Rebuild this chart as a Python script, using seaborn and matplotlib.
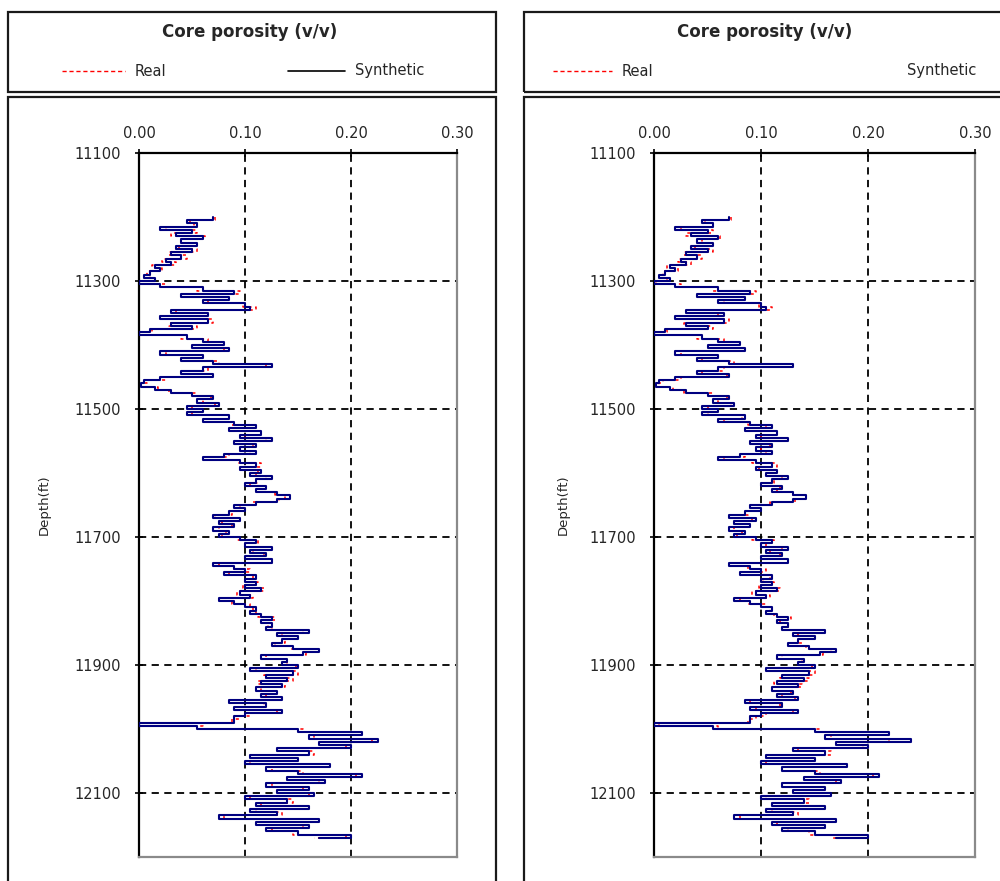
import numpy as np
import pandas as pd
import matplotlib
matplotlib.use("Agg")
import matplotlib.pyplot as plt
import seaborn as sns
from matplotlib.patches import Rectangle
from matplotlib.lines import Line2D

# ---------------- data ----------------
depth_ft = list(range(11200, 12175, 5))

synthetic_left = [
    0.070, 0.045, 0.055, 0.020, 0.050, 0.035, 0.060, 0.040, 0.055, 0.035,
    0.050, 0.030, 0.040, 0.025, 0.030, 0.015, 0.020, 0.010, 0.005, 0.015,
    0.000, 0.020, 0.060, 0.090, 0.040, 0.085, 0.060, 0.100, 0.105, 0.030,
    0.065, 0.020, 0.065, 0.030, 0.050, 0.010, 0.000, 0.045, 0.060, 0.080,
    0.050, 0.085, 0.020, 0.060, 0.040, 0.070, 0.125, 0.060, 0.040, 0.070,
    0.020, 0.005, 0.002, 0.015, 0.030, 0.050, 0.070, 0.055, 0.075, 0.045,
    0.060, 0.045, 0.085, 0.060, 0.090, 0.110, 0.085, 0.115, 0.095, 0.125,
    0.090, 0.110, 0.095, 0.110, 0.080, 0.060, 0.095, 0.110, 0.095, 0.115,
    0.105, 0.125, 0.110, 0.100, 0.120, 0.110, 0.130, 0.142, 0.130, 0.110,
    0.090, 0.100, 0.085, 0.070, 0.095, 0.075, 0.090, 0.070, 0.085, 0.075,
    0.095, 0.110, 0.100, 0.125, 0.105, 0.120, 0.100, 0.125, 0.070, 0.090,
    0.100, 0.080, 0.110, 0.100, 0.110, 0.100, 0.115, 0.095, 0.105, 0.075,
    0.090, 0.100, 0.110, 0.105, 0.115, 0.125, 0.115, 0.125, 0.120, 0.160,
    0.130, 0.150, 0.135, 0.125, 0.145, 0.170, 0.155, 0.115, 0.140, 0.135,
    0.150, 0.105, 0.145, 0.120, 0.140, 0.115, 0.135, 0.110, 0.130, 0.115,
    0.135, 0.085, 0.120, 0.090, 0.135, 0.100, 0.090, 0.090, 0.000, 0.055,
    0.150, 0.210, 0.160, 0.225, 0.170, 0.200, 0.130, 0.160, 0.105, 0.150,
    0.100, 0.180, 0.120, 0.150, 0.210, 0.140, 0.175, 0.120, 0.160, 0.130,
    0.165, 0.100, 0.140, 0.110, 0.160, 0.105, 0.130, 0.075, 0.170, 0.110,
    0.160, 0.120, 0.150, 0.200, 0.170,
]

synthetic_right = [
    0.070, 0.045, 0.055, 0.020, 0.050, 0.035, 0.060, 0.040, 0.055, 0.035,
    0.050, 0.030, 0.040, 0.025, 0.030, 0.015, 0.020, 0.010, 0.005, 0.015,
    0.000, 0.020, 0.060, 0.090, 0.040, 0.085, 0.060, 0.100, 0.105, 0.030,
    0.065, 0.020, 0.065, 0.030, 0.050, 0.010, 0.000, 0.045, 0.060, 0.080,
    0.050, 0.085, 0.020, 0.060, 0.040, 0.070, 0.130, 0.060, 0.040, 0.070,
    0.020, 0.005, 0.002, 0.015, 0.030, 0.050, 0.070, 0.055, 0.075, 0.045,
    0.060, 0.045, 0.085, 0.060, 0.090, 0.110, 0.085, 0.115, 0.095, 0.125,
    0.090, 0.110, 0.095, 0.110, 0.080, 0.060, 0.095, 0.110, 0.095, 0.115,
    0.105, 0.125, 0.110, 0.100, 0.120, 0.110, 0.130, 0.142, 0.130, 0.110,
    0.090, 0.100, 0.085, 0.070, 0.095, 0.075, 0.090, 0.070, 0.085, 0.075,
    0.095, 0.110, 0.100, 0.125, 0.105, 0.120, 0.100, 0.125, 0.070, 0.090,
    0.100, 0.080, 0.110, 0.100, 0.110, 0.100, 0.115, 0.095, 0.105, 0.075,
    0.090, 0.100, 0.110, 0.105, 0.115, 0.125, 0.115, 0.125, 0.120, 0.160,
    0.130, 0.150, 0.135, 0.125, 0.145, 0.170, 0.155, 0.115, 0.140, 0.135,
    0.150, 0.105, 0.145, 0.120, 0.140, 0.115, 0.135, 0.110, 0.130, 0.115,
    0.135, 0.085, 0.120, 0.090, 0.135, 0.100, 0.090, 0.090, 0.000, 0.055,
    0.150, 0.220, 0.160, 0.240, 0.170, 0.200, 0.130, 0.160, 0.105, 0.150,
    0.100, 0.180, 0.120, 0.150, 0.210, 0.140, 0.175, 0.120, 0.160, 0.130,
    0.165, 0.100, 0.140, 0.110, 0.160, 0.105, 0.130, 0.075, 0.170, 0.110,
    0.160, 0.120, 0.150, 0.200, 0.170,
]

real = [
    0.072, 0.048, 0.052, 0.025, 0.055, 0.030, 0.062, 0.045, 0.050, 0.038,
    0.055, 0.028, 0.045, 0.022, 0.035, 0.012, 0.022, 0.008, 0.010, 0.012,
    0.002, 0.025, 0.055, 0.095, 0.045, 0.080, 0.065, 0.098, 0.110, 0.035,
    0.060, 0.025, 0.070, 0.028, 0.055, 0.012, 0.005, 0.040, 0.065, 0.078,
    0.055, 0.080, 0.025, 0.058, 0.045, 0.075, 0.120, 0.065, 0.045, 0.068,
    0.025, 0.008, 0.005, 0.018, 0.028, 0.055, 0.068, 0.060, 0.072, 0.050,
    0.058, 0.050, 0.082, 0.065, 0.088, 0.105, 0.090, 0.112, 0.100, 0.120,
    0.095, 0.108, 0.100, 0.105, 0.085, 0.065, 0.092, 0.115, 0.098, 0.112,
    0.110, 0.120, 0.112, 0.105, 0.118, 0.115, 0.128, 0.138, 0.132, 0.108,
    0.095, 0.098, 0.088, 0.072, 0.092, 0.078, 0.088, 0.075, 0.082, 0.078,
    0.092, 0.112, 0.105, 0.120, 0.108, 0.118, 0.105, 0.122, 0.075, 0.088,
    0.105, 0.085, 0.108, 0.102, 0.112, 0.098, 0.118, 0.092, 0.108, 0.080,
    0.088, 0.105, 0.108, 0.110, 0.112, 0.128, 0.118, 0.122, 0.125, 0.155,
    0.135, 0.148, 0.138, 0.128, 0.142, 0.165, 0.158, 0.120, 0.138, 0.140,
    0.148, 0.110, 0.150, 0.118, 0.145, 0.112, 0.138, 0.115, 0.128, 0.120,
    0.132, 0.090, 0.118, 0.095, 0.130, 0.105, 0.095, 0.088, 0.005, 0.060,
    0.155, 0.205, 0.165, 0.220, 0.175, 0.195, 0.135, 0.165, 0.110, 0.145,
    0.105, 0.175, 0.125, 0.155, 0.205, 0.145, 0.170, 0.125, 0.155, 0.135,
    0.160, 0.105, 0.145, 0.115, 0.155, 0.110, 0.135, 0.080, 0.165, 0.115,
    0.155, 0.125, 0.145, 0.195, 0.165,
]

x_ticks = [0.00, 0.10, 0.20, 0.30]
x_tick_labels = ["0.00", "0.10", "0.20", "0.30"]
y_ticks = [11100, 11300, 11500, 11700, 11900, 12100]
title_text = "Core porosity (v/v)"
series_names = ["Real", "Synthetic"]

# ---------------- style ----------------
sns.set_style("white")
plt.rcParams["font.family"] = ["DejaVu Sans"]

W, H = 1000, 881
fig = plt.figure(figsize=(W / 100, H / 100), dpi=100)


def fx(px):
    return px / W


def fy(py):
    return 1 - py / H


def box(x0, y0, x1, y1, lw=1.6):
    fig.add_artist(Rectangle((fx(x0), fy(y1)), (x1 - x0) / W, (y1 - y0) / H,
                             transform=fig.transFigure, fill=False,
                             ec="#1a1a1a", lw=lw, zorder=0))


def panel(ax_px, synth, head, show_synth_line):
    l, t, r, b = ax_px
    hx0, hx1, title_cx, real_line, real_txt, syn_line, syn_txt, depth_x = head
    box(hx0, 12, hx1, 92)
    box(hx0, 97, hx1, 900)

    fig.text(fx(title_cx), fy(32), title_text, ha="center", va="center",
             fontsize=12, fontweight="bold")
    fig.add_artist(Line2D([fx(real_line[0]), fx(real_line[1])], [fy(71), fy(71)],
                          transform=fig.transFigure, color="red", lw=1.0,
                          ls=(0, (3, 2))))
    fig.text(fx(real_txt), fy(71), series_names[0], ha="left", va="center",
             fontsize=10.5)
    if show_synth_line:
        fig.add_artist(Line2D([fx(syn_line[0]), fx(syn_line[1])], [fy(71), fy(71)],
                              transform=fig.transFigure, color="black", lw=1.2))
    fig.text(fx(syn_txt), fy(71), series_names[1], ha="left", va="center",
             fontsize=10.5)
    fig.text(fx(depth_x), fy(505), "Depth(ft)", rotation=90, ha="center",
             va="center", fontsize=9.5)

    ax = fig.add_axes([fx(l), fy(b), (r - l) / W, (b - t) / H])
    df = pd.DataFrame({"Depth": depth_ft, "Real": real, "Synthetic": synth})
    sns.lineplot(data=df, x="Real", y="Depth", orient="y", sort=False,
                 estimator=None, color="red", lw=1.1,
                 linestyle=(0, (2, 2.5)), drawstyle="steps-pre", ax=ax, zorder=2)
    sns.lineplot(data=df, x="Synthetic", y="Depth", orient="y", sort=False,
                 estimator=None, color="#000080", lw=1.5,
                 drawstyle="steps-pre", ax=ax, zorder=3)

    ax.set_xlim(0, 0.30)
    ax.set_ylim(12200, 11100)
    ax.xaxis.tick_top()
    ax.set_xticks(x_ticks)
    ax.set_xticklabels(x_tick_labels)
    ax.set_yticks(y_ticks)
    ax.set_yticklabels([str(v) for v in y_ticks])
    ax.set_xlabel("")
    ax.set_ylabel("")
    ax.tick_params(axis="both", direction="inout", length=6, width=1.2,
                   color="black", labelsize=10.5)
    ax.tick_params(axis="x", top=True, bottom=False, pad=6)
    ax.tick_params(axis="y", left=True, right=False, pad=10)
    ax.grid(True, color="black", ls=(0, (4, 3)), lw=1.3)
    for s in ["top", "left"]:
        ax.spines[s].set_color("black")
        ax.spines[s].set_linewidth(1.6)
    for s in ["right", "bottom"]:
        ax.spines[s].set_color("#8a8a8a")
        ax.spines[s].set_linewidth(1.6)
    ax.set_facecolor("white")
    return ax


panel((139, 153, 457, 857), synthetic_left,
      (8, 496, 250, (62, 125), 135, (288, 345), 355, 44), True)
panel((654, 153, 975, 857), synthetic_right,
      (524, 1010, 765, (553, 612), 622, None, 907, 563), False)

fig.savefig("out.png", dpi=100, facecolor="white")
